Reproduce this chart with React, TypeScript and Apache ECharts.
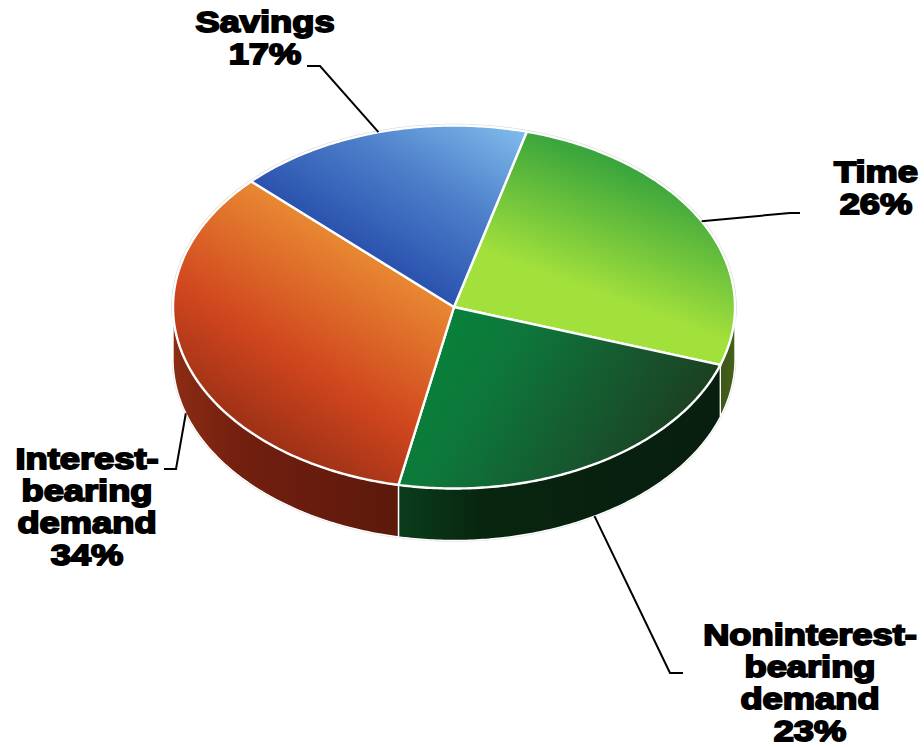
import React, { useEffect, useRef } from "react";
import * as echarts from "echarts";

const categories = ["Time", "Noninterest-bearing demand", "Interest-bearing demand", "Savings"];
const shares = [26, 23, 34, 17];
const labelLines = [
  ["Time", "26%"],
  ["Noninterest-", "bearing", "demand", "23%"],
  ["Interest-", "bearing", "demand", "34%"],
  ["Savings", "17%"],
];

// layout of the tilted disc
const CX = 454;
const CY = 307;
const RX = 281;
const RY = 181.5;
const DEPTH = 52;
const START_DEG = 15;

const leaderLayout = [
  { elbow: [790, 213], end: [800, 213], text: [876, 188] },
  { elbow: [670, 673], end: [683, 673], text: [810, 682.5] },
  { elbow: [176, 469], end: [164, 469], text: [87, 507] },
  { elbow: [320, 66], end: [307, 66], text: [265, 38] },
];

const linear = (x: number, y: number, x2: number, y2: number, stops: [number, string][]) => ({
  type: "linear",
  x,
  y,
  x2,
  y2,
  global: true,
  colorStops: stops.map(([offset, color]) => ({ offset, color })),
});

const topFills = [
  linear(590, 290, 634, 172, [[0, "#a2e03c"], [1, "#3ca63c"]]),
  linear(440, 305, 690, 455, [[0, "#06843a"], [0.3, "#0e763a"], [0.65, "#16582f"], [1, "#1d3a1f"]]),
  linear(353, 245, 228, 449, [[0, "#e88832"], [0.53, "#d0461e"], [1, "#8e2a14"]]),
  linear(353, 245, 450, 87, [[0, "#2a52ae"], [0.5, "#4d7fca"], [1, "#7ebaea"]]),
];
const sideFills = [
  linear(719, 0, 734, 0, [[0, "#3c5618"], [1, "#44601a"]]),
  linear(398, 0, 719, 0, [[0, "#0a3d1c"], [0.25, "#08260f"], [0.7, "#08200f"], [1, "#081f10"]]),
  linear(174, 0, 398, 0, [[0, "#8c2c14"], [0.3, "#721f0f"], [1, "#5c190c"]]),
  linear(0, 0, 1, 0, [[0, "#000"], [1, "#000"]]),
];

const toPoint = (deg: number, dy = 0) => {
  const a = (deg * Math.PI) / 180;
  return [CX + RX * Math.sin(a), CY - RY * Math.cos(a) + dy];
};

const arcPoints = (from: number, to: number, dy = 0) => {
  const pts: number[][] = [];
  const n = Math.max(2, Math.ceil(Math.abs(to - from) * 1.5));
  for (let i = 0; i <= n; i++) pts.push(toPoint(from + ((to - from) * i) / n, dy));
  return pts;
};

const total = shares.reduce((a, b) => a + b, 0);
const sliceRange = (index: number) => {
  let sum = 0;
  for (let i = 0; i < index; i++) sum += shares[i];
  const from = START_DEG + (sum / total) * 360;
  const to = from + (shares[index] / total) * 360;
  return [from, to];
};

const seriesData = shares.map((value, i) => ({ name: categories[i], value }));

export default function App() {
  const ref = useRef<HTMLDivElement>(null);
  useEffect(() => {
    const chart = echarts.init(ref.current!, null, { renderer: "svg" });
    chart.setOption({
      animation: false,
      backgroundColor: "#ffffff",
      series: [
        {
          type: "custom",
          coordinateSystem: "none",
          silent: true,
          z: 1,
          data: seriesData,
          renderItem: (params: any) => {
            const [from, to] = sliceRange(params.dataIndex);
            const a = Math.max(from, 90);
            const b = Math.min(to, 270);
            const children: any[] = [
              {
                type: "polyline",
                shape: { points: arcPoints(from, to) },
                style: { fill: "none", stroke: "#d2d2d2", lineWidth: 3.4 },
              },
            ];
            if (b > a) {
              children.push({
                type: "polyline",
                shape: { points: arcPoints(a, b, DEPTH) },
                style: { fill: "none", stroke: "#dedede", lineWidth: 2.4 },
              });
              children.push({
                type: "polygon",
                shape: { points: [...arcPoints(a, b), ...arcPoints(b, a, DEPTH)] },
                style: { fill: sideFills[params.dataIndex], stroke: "#ffffff", lineWidth: 1.4, lineJoin: "round" },
              });
            }
            return { type: "group", children };
          },
        },
        {
          type: "custom",
          coordinateSystem: "none",
          silent: true,
          z: 2,
          data: seriesData,
          renderItem: (params: any) => {
            const [from, to] = sliceRange(params.dataIndex);
            return {
              type: "polygon",
              shape: { points: [[CX, CY], ...arcPoints(from, to)] },
              style: { fill: topFills[params.dataIndex], stroke: "#ffffff", lineWidth: 2.4, lineJoin: "round" },
            };
          },
        },
        {
          type: "custom",
          coordinateSystem: "none",
          silent: true,
          z: 3,
          data: seriesData,
          renderItem: (params: any) => {
            const i = params.dataIndex;
            const [from, to] = sliceRange(i);
            const mid = (from + to) / 2;
            const cosMid = Math.cos((mid * Math.PI) / 180);
            const start = toPoint(mid, cosMid < 0 ? DEPTH : 0);
            const layout = leaderLayout[i];
            return {
              type: "group",
              children: [
                {
                  type: "polyline",
                  shape: { points: [start, layout.elbow, layout.end] },
                  style: { fill: "none", stroke: "#000000", lineWidth: 2 },
                },
                {
                  type: "text",
                  x: layout.text[0],
                  y: layout.text[1],
                  scaleX: 1.21,
                  style: {
                    text: labelLines[i].join("\n"),
                    fontFamily: "Liberation Sans",
                    fontWeight: "bold",
                    fontSize: 30,
                    lineHeight: 32,
                    align: "center",
                    verticalAlign: "middle",
                    fill: "#000000",
                    stroke: "#000000",
                    lineWidth: 1.8,
                  },
                },
              ],
            };
          },
        },
      ],
    });
    return () => chart.dispose();
  }, []);
  return <div ref={ref} style={{ position: "absolute", left: 0, top: 0, width: 924, height: 747 }} />;
}
